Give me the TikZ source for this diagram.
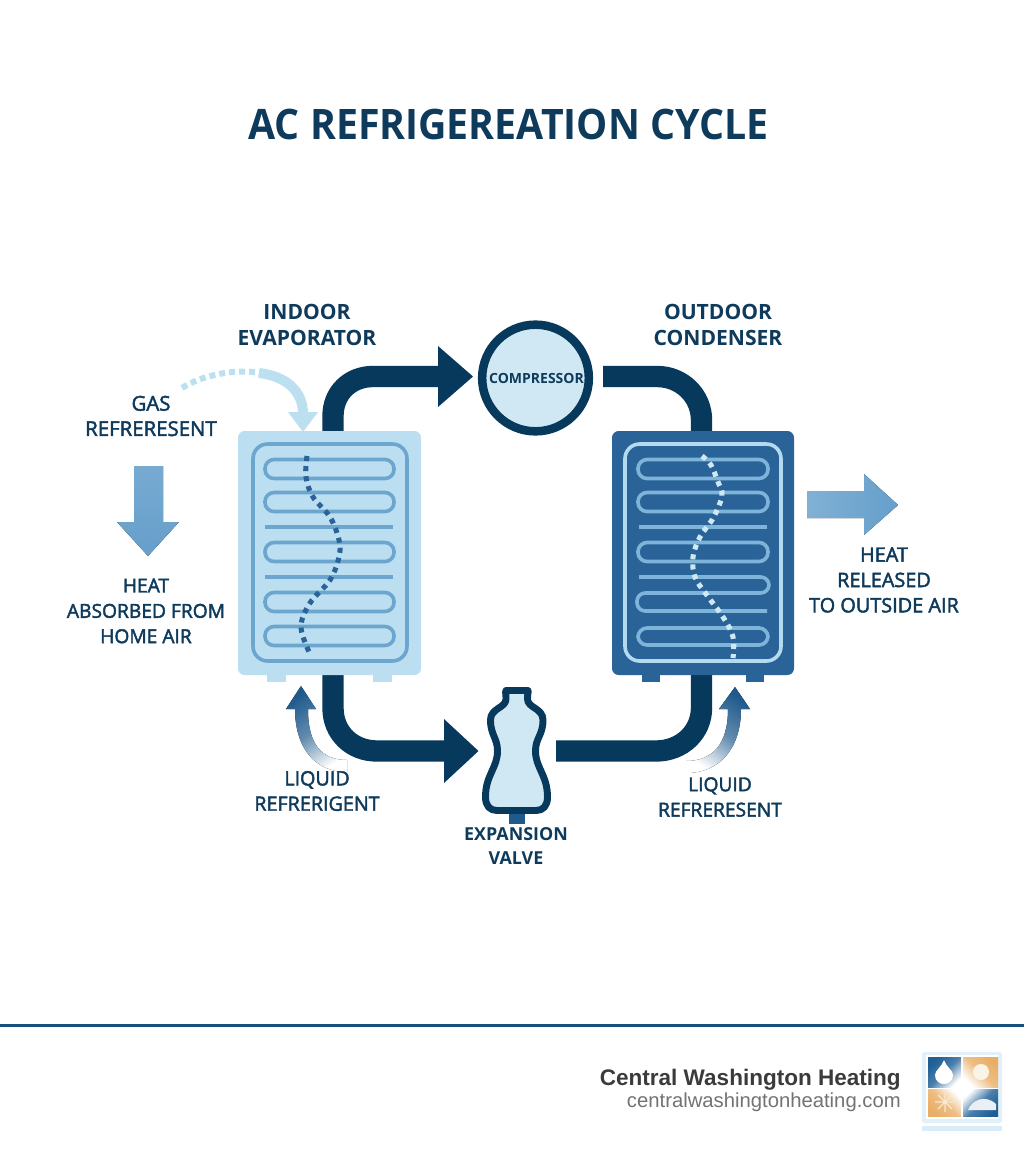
\documentclass[tikz,border=0pt]{standalone}
\usepackage{fontspec}
\usetikzlibrary{calc}
\setmainfont{Open Sans}
\newfontfamily\lblfont[FakeBold=2.2]{Open Sans}
\newfontfamily\headfont{Open Sans}
\newfontfamily\titlefont[FakeStretch=0.935]{Open Sans}
\newfontfamily\footfont{Liberation Sans}
\definecolor{navy}{HTML}{06395C}
\definecolor{ink}{HTML}{0E3A5C}
\definecolor{evap}{HTML}{BBDEF0}
\definecolor{coila}{HTML}{6CA6CF}
\definecolor{cond}{HTML}{2A6398}
\definecolor{coilb}{HTML}{7FB4DA}
\definecolor{frameb}{HTML}{B4DAEF}
\definecolor{gasc}{HTML}{BDE0F1}
\definecolor{heatc}{HTML}{659FCB}
\definecolor{smallc}{HTML}{1F5A8C}
\definecolor{pale}{HTML}{CFE8F4}
\definecolor{logob}{HTML}{1E5F96}
\definecolor{logoo}{HTML}{E9AE66}
\tikzset{
  lbl/.style={align=center,text=ink,font=\lblfont\fontsize{14.4}{19}\selectfont},
  hlbl/.style={align=center,text=ink,font=\headfont\bfseries\fontsize{15.8}{19.5}\selectfont},
  pipe/.style={draw=navy,line width=16,line cap=butt},
  coil/.style={draw=#1,line width=2.7,rounded corners=6.8},
  dots/.style={draw=#1,line width=3.8,dash pattern=on 3.8 off 3.8},
  headfill/.style={fill=navy,draw=none}
}
\begin{document}
\begin{tikzpicture}[x=0.75pt,y=-0.75pt]
\useasboundingbox (0,0) rectangle (1024,1154);
\fill[white] (0,0) rectangle (1024,1154);
% title
\node[font=\titlefont\bfseries\fontsize{31.5}{36}\selectfont,text=ink] (title) at (508.5,124) {AC REFRIGEREATION CYCLE};
% pipes
\coordinate (eT) at (333,436);
\coordinate (eB) at (333,670);
\coordinate (cT) at (701.5,436);
\coordinate (cB) at (701.5,670);
\draw[pipe] (eT) -- (333,416) .. controls (333,393) and (350,376.5) .. (373,376.5) -- (442,376.5);
\fill[headfill] (438,346) -- (473,376.5) -- (438,407) -- cycle;
\draw[pipe] (603,376.5) -- (657,376.5) .. controls (682,376.5) and (701.5,396) .. (701.5,420) -- (cT);
\draw[pipe] (eB) -- (333,708) .. controls (333,733) and (352,751) .. (377,751) -- (448,751);
\fill[headfill] (444,719) -- (478.5,751) -- (444,783) -- cycle;
\draw[pipe] (556,751) -- (656,751) .. controls (682,751) and (701.5,732) .. (701.5,708) -- (cB);
% evaporator
\fill[evap] (267,670) rectangle (286,682);
\fill[evap] (373,670) rectangle (392,682);
\fill[evap,rounded corners=5] (238,431) rectangle (421,675);
\draw[coila,line width=2.7,rounded corners=11] (253,444) rectangle (407,661);
\foreach \y in {469,502,552,602,636}{
  \draw[coil=coila] (265,\y-9.5) rectangle (394,\y+9.5);
}
\foreach \y in {527,577}{
  \draw[coila,line width=2.7] (265,\y) -- (393,\y);
}
\draw[dots=cond] plot[smooth,tension=0.6] coordinates {(307,456) (306,477) (313,497) (330,517) (339,540) (339,557) (330,580) (310,603) (301,627) (310,654)};
% condenser
\fill[cond] (642,670) rectangle (660,682);
\fill[cond] (746,670) rectangle (764,682);
\fill[cond,rounded corners=5] (612,431) rectangle (794,675);
\draw[frameb,line width=2.7,rounded corners=11] (625,444) rectangle (781,661);
\foreach \y in {469,502,552}{
  \draw[coil=coilb] (638,\y-9.5) rectangle (768,\y+9.5);
}
\draw[coil=coilb] (638,628) rectangle (768,645);
\draw[coilb,line width=2.7] (639,527) -- (767,527);
\draw[coilb,line width=2.7,rounded corners=6.2] (639,577) -- (769,577) -- (769,593) -- (637,593) -- (637,611) -- (767,611);
\draw[dots=pale] plot[smooth,tension=0.6] coordinates {(702,456) (711,465) (718,482) (722,492) (720,503) (712,520) (700,537) (693,557) (695,577) (706,594) (723,617) (733,637) (733,658)};
% compressor
\node[circle,draw=navy,line width=6.4,fill=pale,minimum size=80,inner sep=0,outer sep=0] (comp) at (535.5,378) {};
\node[font=\headfont\bfseries\fontsize{10.5}{12}\selectfont,text=ink] (complbl) at (536.5,378) {COMPRESSOR};
% valve
\fill[smallc] (508.5,812) rectangle (524.5,823.5);
\draw[navy,line width=5.2,fill=pale,line join=round] (506,690.5) -- (528,690.5) .. controls (529,690.5) and (527.5,692) .. (527.5,699) .. controls (527.5,708) and (543,708) .. (543,720)
 .. controls (543,735) and (535.5,738) .. (535.5,751) .. controls (535.5,768) and (547.5,775) .. (547.5,797) .. controls (547.5,806) and (543,810.5) .. (536,810.5)
 -- (497,810.5) .. controls (490,810.5) and (485.5,806) .. (485.5,797) .. controls (485.5,775) and (497.5,768) .. (497.5,751) .. controls (497.5,738) and (490.5,735) .. (490.5,720)
 .. controls (490.5,708) and (506,708) .. (506,699) .. controls (506,692) and (505,690.5) .. (506,690.5) -- cycle;
% gas arrow
\draw[gasc,line width=4.5,dash pattern=on 4.5 off 3] (182,388) .. controls (200,376) and (235,368) .. (260,373);
\draw[gasc,line width=7.5] (259,373) .. controls (285,376) and (303,390) .. (303,414);
\fill[gasc] (288,412) -- (318,412) -- (303,432) -- cycle;
% heat arrows
\fill[top color=heatc!88!white,bottom color=heatc] (134,466) -- (163,466) -- (163,522) -- (179,522) -- (148,556) -- (117,522) -- (134,522) -- cycle;
\fill[left color=heatc!82!white,right color=heatc] (807,491) -- (864,491) -- (864,474) -- (898,505) -- (864,535) -- (864,518) -- (807,518) -- cycle;
% small arrows
\fill[top color=smallc,bottom color=white,middle color=smallc!70!white,shading angle=35] (347,760) .. controls (322,760) and (308,745) .. (308,709) -- (316,709) -- (301,686) -- (286,709) -- (295,709) .. controls (295,748) and (315,772) .. (347,772) -- cycle;
\fill[top color=smallc,bottom color=white,middle color=smallc!70!white,shading angle=-35] (686,761) .. controls (712,761) and (728,745) .. (728,709) -- (719,709) -- (735,687) -- (750,709) -- (741,709) .. controls (741,748) and (720,773) .. (686,773) -- cycle;
% labels
\node[hlbl] (lEv) at (307,325) {INDOOR\\EVAPORATOR};
\node[hlbl] (lCo) at (718,325) {OUTDOOR\\CONDENSER};
\node[lbl,font=\lblfont\fontsize{15.3}{19}\selectfont] (lGas) at (151,416) {GAS\\REFRERESENT};
\node[lbl] (lAbs) at (146,611) {HEAT\\ABSORBED FROM\\HOME AIR};
\node[lbl,font=\lblfont\fontsize{14.9}{19}\selectfont] (lRel) at (884,580) {HEAT\\RELEASED\\TO OUTSIDE AIR};
\node[lbl,font=\lblfont\fontsize{14.8}{19}\selectfont] (lLiqL) at (317,791) {LIQUID\\REFRERIGENT};
\node[lbl] (lLiqR) at (720,797) {LIQUID\\REFRERESENT};
\node[hlbl,font=\headfont\bfseries\fontsize{13.4}{17.5}\selectfont] (lVal) at (516,846) {EXPANSION\\VALVE};
% footer
\fill[smallc!70!navy] (0,1024) rectangle (1024,1027);
\node[anchor=east,inner sep=0,font=\footfont\bfseries\fontsize{16.9}{20}\selectfont,text=black!77] (fa) at (901,1080) {Central Washington Heating};
\node[anchor=east,inner sep=0,font=\footfont\fontsize{15.2}{18}\selectfont,text=black!55] (fb) at (901,1102) {centralwashingtonheating.com};
% logo
\fill[frameb!40!white,rounded corners=2] (922,1052) rectangle (1002,1123);
\fill[white] (926,1055) rectangle (998,1119);
\fill[top color=logob,bottom color=white,middle color=logob!80!white,shading angle=45] (928,1057) rectangle (961,1087);
\fill[top color=logoo,bottom color=white,middle color=logoo!80!white,shading angle=-45] (963,1057) rectangle (998,1087);
\fill[top color=white,bottom color=logoo,middle color=logoo!80!white,shading angle=-45] (928,1089) rectangle (961,1116);
\fill[top color=white,bottom color=logob,middle color=logob!80!white,shading angle=45] (963,1089) rectangle (998,1116);
\fill[white] (944,1060) .. controls (946,1067) and (953,1070) .. (953,1075) .. controls (953,1087) and (935,1087) .. (935,1075) .. controls (935,1070) and (942,1067) .. (944,1060) -- cycle;
\fill[white!85!logoo] (981,1072) circle[radius=8];
\draw[white!70!logoo,line width=1] (935,1102) -- (955,1102) (945,1093) -- (945,1112) (938,1095) -- (952,1109) (952,1095) -- (938,1109);
\fill[white!90!logob] (968,1110) .. controls (972,1100) and (985,1094) .. (996,1104) -- (996,1110) -- cycle;
\fill[frameb!50!white] (922,1126) rectangle (1002,1131);
\end{tikzpicture}
\end{document}
